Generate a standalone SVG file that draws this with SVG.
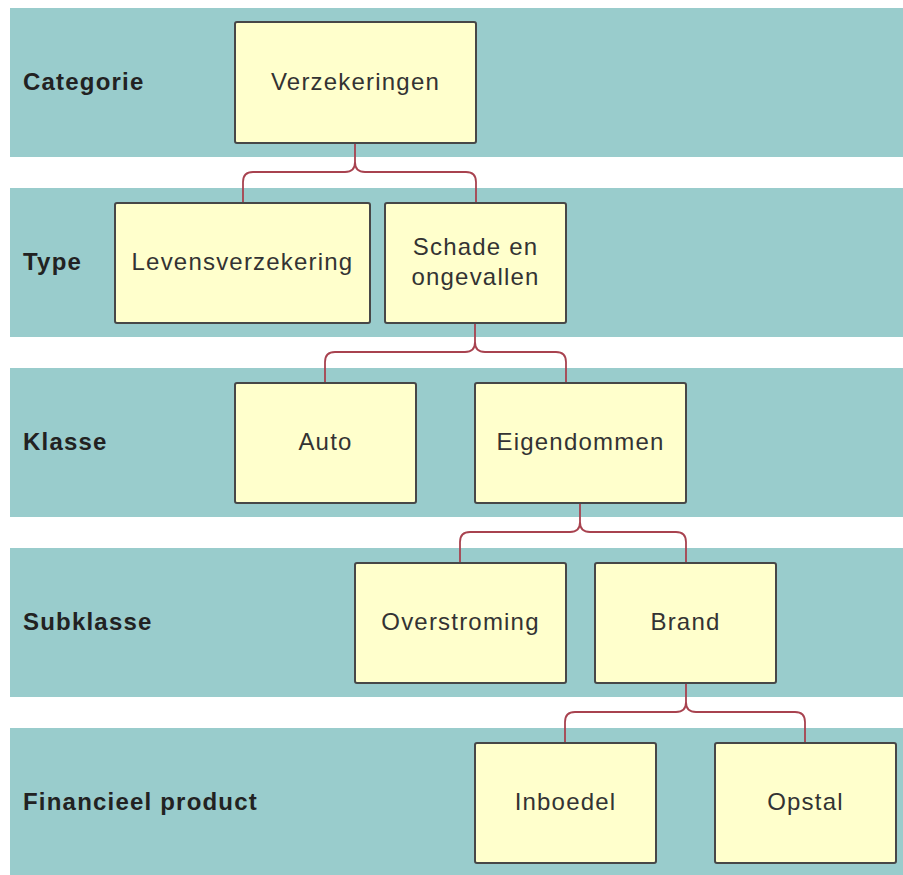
<svg xmlns="http://www.w3.org/2000/svg" width="903" height="875" viewBox="0 0 903 875">
<style>
.band{fill:#99cccc}
.box{fill:#ffffcc;stroke:#474747;stroke-width:2}
.lbl{font-family:"Liberation Sans",Arial,sans-serif;font-size:24px;letter-spacing:1.2px;fill:#333;text-anchor:middle}
.hdr{font-family:"Liberation Sans",Arial,sans-serif;font-size:24px;letter-spacing:1.2px;font-weight:bold;fill:#222}
.con{fill:none;stroke:#a8424f;stroke-width:1.8}
</style>
<rect width="903" height="875" fill="#fff"/>
<g id="bands">
<rect class="band" x="10" y="8" width="893" height="149"/>
<rect class="band" x="10" y="188" width="893" height="149"/>
<rect class="band" x="10" y="368" width="893" height="149"/>
<rect class="band" x="10" y="548" width="893" height="149"/>
<rect class="band" x="10" y="728" width="893" height="147"/>
<text class="hdr" x="23" y="90">Categorie</text>
<text class="hdr" x="23" y="270">Type</text>
<text class="hdr" x="23" y="450">Klasse</text>
<text class="hdr" x="23" y="630">Subklasse</text>
<text class="hdr" x="23" y="810">Financieel product</text>
</g>
<g id="connectors">
<path class="con" d="M355,143 V162 Q355,172 345,172 H253 Q243,172 243,182 V203 M355,162 Q355,172 365,172 H466 Q476,172 476,182 V203"/>
<path class="con" d="M475,323 V342 Q475,352 465,352 H335 Q325,352 325,362 V383 M475,342 Q475,352 485,352 H556 Q566,352 566,362 V383"/>
<path class="con" d="M580,503 V522 Q580,532 570,532 H470 Q460,532 460,542 V563 M580,522 Q580,532 590,532 H676 Q686,532 686,542 V563"/>
<path class="con" d="M686,683 V702 Q686,712 676,712 H575 Q565,712 565,722 V743 M686,702 Q686,712 696,712 H795 Q805,712 805,722 V743"/>
</g>
<g id="n-verzekeringen"><rect class="box" x="235" y="22" width="241" height="121" rx="2"/><text class="lbl" x="355.5" y="90">Verzekeringen</text></g>
<g id="n-levens"><rect class="box" x="115" y="203" width="255" height="120" rx="2"/><text class="lbl" x="242.5" y="270">Levensverzekering</text></g>
<g id="n-schade"><rect class="box" x="385" y="203" width="181" height="120" rx="2"/><text class="lbl" x="475.5" y="255">Schade en</text><text class="lbl" x="475.5" y="285">ongevallen</text></g>
<g id="n-auto"><rect class="box" x="235" y="383" width="181" height="120" rx="2"/><text class="lbl" x="325.5" y="450">Auto</text></g>
<g id="n-eigendommen"><rect class="box" x="475" y="383" width="211" height="120" rx="2"/><text class="lbl" x="580.5" y="450">Eigendommen</text></g>
<g id="n-overstroming"><rect class="box" x="355" y="563" width="211" height="120" rx="2"/><text class="lbl" x="460.5" y="630">Overstroming</text></g>
<g id="n-brand"><rect class="box" x="595" y="563" width="181" height="120" rx="2"/><text class="lbl" x="685.5" y="630">Brand</text></g>
<g id="n-inboedel"><rect class="box" x="475" y="743" width="181" height="120" rx="2"/><text class="lbl" x="565.5" y="810">Inboedel</text></g>
<g id="n-opstal"><rect class="box" x="715" y="743" width="181" height="120" rx="2"/><text class="lbl" x="805.5" y="810">Opstal</text></g>
</svg>
